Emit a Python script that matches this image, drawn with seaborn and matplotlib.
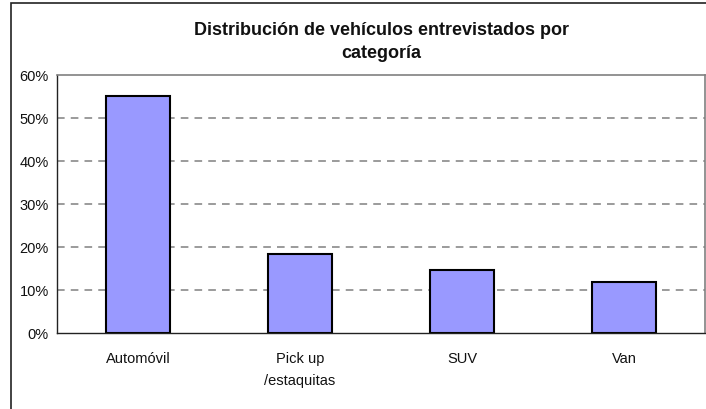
import matplotlib
matplotlib.use('Agg')
import matplotlib.pyplot as plt
import matplotlib.patches as mpatches
from matplotlib.ticker import PercentFormatter, FixedLocator
import seaborn as sns
import pandas as pd

# data
categorias = ['Automóvil', 'Pick up\n/estaquitas', 'SUV', 'Van']
porcentajes = [55.2, 18.3, 14.7, 11.8]

BAR_COLOR = '#9999FF'
GRID_GRAY = '#808080'

sns.set_style('white')
plt.rcParams['font.family'] = ['Liberation Sans', 'DejaVu Sans']

df = pd.DataFrame({'categoria': categorias, 'pct': porcentajes})

fig = plt.figure(figsize=(7.06, 4.10), dpi=100)
fig.patch.set_facecolor('white')

# outer chart frame (only left and top edges visible in the crop)
fig.patches.append(mpatches.Rectangle((11 / 706, -0.5), 2.0, 0.5 + (410 - 4) / 410,
                                      transform=fig.transFigure, fill=False,
                                      edgecolor='#222222', linewidth=1.2))

ax = fig.add_axes([57 / 706, (410 - 334) / 410, (705 - 57) / 706, (334 - 76) / 410])

sns.barplot(data=df, x='categoria', y='pct', ax=ax, color=BAR_COLOR,
            width=0.4, edgecolor='black', linewidth=1.5, saturation=1)

ax.set_xlim(-0.5, 3.5)
ax.set_ylim(0, 60)
ax.set_yticks(range(0, 61, 10))
ax.yaxis.set_major_formatter(PercentFormatter(decimals=0))
ax.set_xlabel('')
ax.set_ylabel('')

# dashed gridlines
for v in range(10, 60, 10):
    ax.axhline(v, color=GRID_GRAY, linestyle=(0, (5, 4)), linewidth=1.1, zorder=0)

# spines
for s in ['top', 'right']:
    ax.spines[s].set_color(GRID_GRAY)
    ax.spines[s].set_linewidth(1.2)
for s in ['left', 'bottom']:
    ax.spines[s].set_color('#222222')
    ax.spines[s].set_linewidth(1.0)

# ticks: labels centered, tick marks on category boundaries
ax.tick_params(axis='x', which='major', length=0, pad=13, labelsize=10.5)
ax.xaxis.set_minor_locator(FixedLocator([0.5, 1.5, 2.5, 3.5]))
ax.tick_params(axis='x', which='minor', length=4, width=1, color='#222222', direction='out')
ax.tick_params(axis='y', length=5, width=1, color='#222222', direction='out',
               labelsize=10.5, pad=1)
for lbl in ax.get_xticklabels():
    lbl.set_linespacing(1.75)
    lbl.set_color('#111111')
for lbl in ax.get_yticklabels():
    lbl.set_color('#111111')

fig.text(381 / 706, 1 - 42 / 410, 'Distribución de vehículos entrevistados por\ncategoría',
         ha='center', va='center', fontsize=13, fontweight='bold', linespacing=1.5,
         color='#111111')

fig.savefig('out.png', dpi=100)
